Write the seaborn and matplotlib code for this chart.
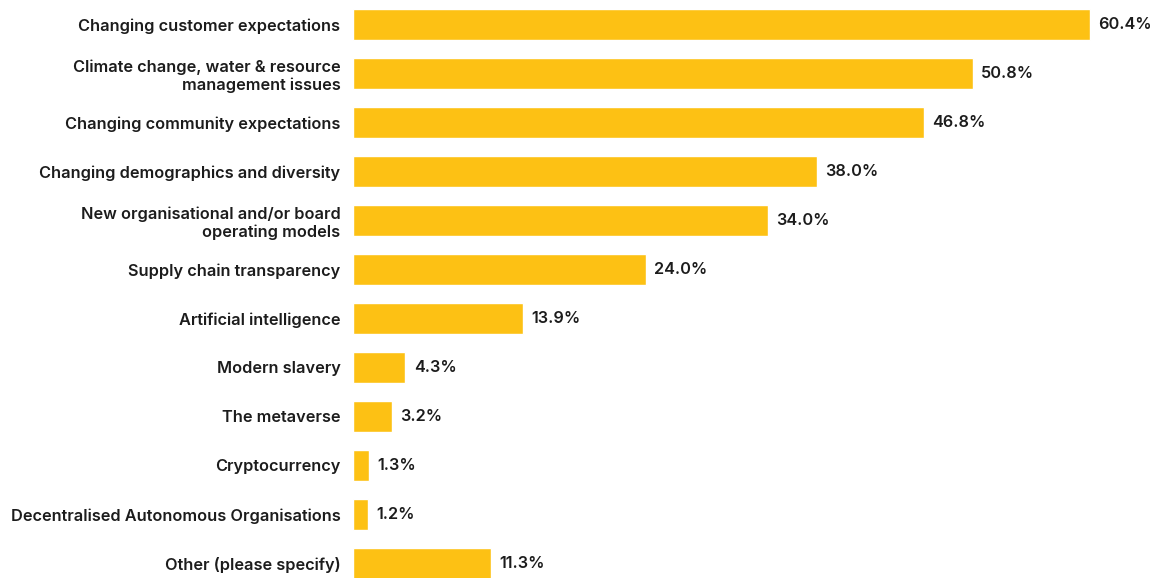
import matplotlib
matplotlib.use("Agg")
import matplotlib.pyplot as plt
import seaborn as sns
import pandas as pd

categories = [
    "Changing customer expectations",
    "Climate change, water & resource\nmanagement issues",
    "Changing community expectations",
    "Changing demographics and diversity",
    "New organisational and/or board\noperating models",
    "Supply chain transparency",
    "Artificial intelligence",
    "Modern slavery",
    "The metaverse",
    "Cryptocurrency",
    "Decentralised Autonomous Organisations",
    "Other (please specify)",
]
values = [60.4, 50.8, 46.8, 38.0, 34.0, 24.0, 13.9, 4.3, 3.2, 1.3, 1.2, 11.3]

df = pd.DataFrame({"category": categories, "value": values})

sns.set_theme(style="white")
plt.rcParams["font.family"] = ["Inter", "DejaVu Sans"]

BAR_COLOR = "#FDC114"
TEXT_COLOR = "#1c1c1c"

fig = plt.figure(figsize=(11.53, 5.78), dpi=100)
ax = fig.add_axes([353 / 1153, 0, 800 / 1153, 1])

sns.barplot(data=df, x="value", y="category", orient="h", color=BAR_COLOR,
            width=0.65, saturation=1, ax=ax)

ax.set_xlim(0, 800 / 12.2)
ax.set_ylim((578 - 24.5) / 49, -0.5)
ax.set_xlabel("")
ax.set_ylabel("")
ax.set_xticks([])
sns.despine(ax=ax, left=True, bottom=True)
ax.tick_params(axis="y", length=0, pad=9)
for lbl in ax.get_yticklabels():
    lbl.set_fontsize(11.75)
    lbl.set_fontweight("semibold")
    lbl.set_color(TEXT_COLOR)
    lbl.set_horizontalalignment("right")
    lbl.set_multialignment("right")
    lbl.set_linespacing(1.2)

for i, v in enumerate(values):
    ax.text(v + 0.7, i, f"{v:.1f}%", va="center", ha="left",
            fontsize=11.7, fontweight="semibold", color=TEXT_COLOR)

fig.savefig("out.png", dpi=100, facecolor="white")
